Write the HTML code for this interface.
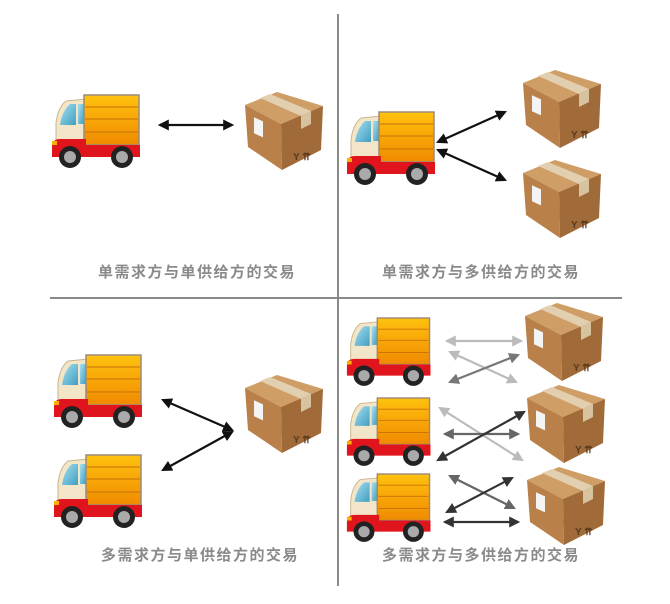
<!DOCTYPE html>
<html><head><meta charset="utf-8"><style>
html,body{margin:0;padding:0;background:#fff;}
svg text{font-family:"Liberation Sans","Noto Sans CJK SC",sans-serif;font-weight:bold;font-size:15px;fill:#8a8a8a;letter-spacing:1.5px;}
</style></head><body>
<svg width="670" height="599" viewBox="0 0 670 599" xmlns="http://www.w3.org/2000/svg">
<defs>
<linearGradient id="og" x1="0" y1="0" x2="0" y2="1"><stop offset="0" stop-color="#ffc20e"/><stop offset="1" stop-color="#f08a00"/></linearGradient>
<linearGradient id="wg" x1="0" y1="0" x2="1" y2="1"><stop offset="0" stop-color="#a8e0f0"/><stop offset="1" stop-color="#3f9ec0"/></linearGradient>
<g id="truck">
<path d="M6,48 L6,28 Q8,12 16,6 L36,4 L36,48 Z" fill="#f3e5c8" stroke="#c9b58e" stroke-width="1"/>
<path d="M10,30 Q12,16 20,9 L26,9 L26,30 Z" fill="url(#wg)"/>
<rect x="28" y="9" width="6" height="20" fill="url(#wg)"/>
<rect x="34" y="0" width="55" height="50" fill="url(#og)" stroke="#9b8a7a" stroke-width="1.5"/>
<line x1="35" y1="12" x2="88" y2="12" stroke="#c8700a" stroke-width="1"/>
<line x1="35" y1="24" x2="88" y2="24" stroke="#c8700a" stroke-width="1"/>
<line x1="35" y1="37" x2="88" y2="37" stroke="#c8700a" stroke-width="1"/>
<path d="M2,52 Q2,44 10,44 L36,44 L36,50 L90,50 L90,62 L2,62 Z" fill="#e0141c"/>
<rect x="2" y="46" width="5" height="4" fill="#ffb000"/>
<circle cx="20" cy="62" r="11" fill="#222"/><circle cx="20" cy="62" r="6" fill="#aaa"/>
<circle cx="72" cy="62" r="11" fill="#222"/><circle cx="72" cy="62" r="6" fill="#aaa"/>
</g>
<g id="box">
<polygon points="0,13 32,0 78,14 36,32" fill="#cf9d66"/>
<polygon points="0,13 36,32 37,78 3,55" fill="#b98149"/>
<polygon points="36,32 78,14 76,58 37,78" fill="#a06a39"/>
<polygon points="15,6 25,2 66,19 56,24" fill="#e2cfb0"/>
<polygon points="56,24 66,19 66,32 56,37" fill="#d8c3a0"/>
<rect x="9" y="26" width="9" height="16" fill="#f4f4f4" transform="skewY(25) translate(0,-5)"/>
<text x="48" y="68" style="font-size:10px;fill:#5a3a1c;letter-spacing:0">Y ⇈</text>
</g>
<marker id="a1" viewBox="0 0 10 10" refX="8" refY="5" markerWidth="5" markerHeight="5" orient="auto-start-reverse"><path d="M0,0 L10,5 L0,10 Z" fill="context-stroke"/></marker>
</defs>
<line x1="338" y1="14" x2="338" y2="586" stroke="#8a8a8a" stroke-width="2"/>
<line x1="50" y1="298" x2="622" y2="298" stroke="#8a8a8a" stroke-width="2"/>

<use href="#truck" x="50" y="95"/>
<use href="#box" x="245" y="92"/>
<use href="#truck" x="345" y="112"/>
<use href="#box" x="523" y="70"/>
<use href="#box" x="523" y="160"/>
<use href="#truck" x="52" y="355"/>
<use href="#truck" x="52" y="455"/>
<use href="#box" x="245" y="375"/>
<use href="#truck" transform="translate(345,318) scale(0.95,0.93)"/>
<use href="#truck" transform="translate(345,398) scale(0.95,0.93)"/>
<use href="#truck" transform="translate(345,474) scale(0.95,0.93)"/>
<use href="#box" x="525" y="303"/>
<use href="#box" x="527" y="385"/>
<use href="#box" x="527" y="467"/>

<g stroke-width="2.2" fill="none" marker-start="url(#a1)" marker-end="url(#a1)">
<line x1="160" y1="125" x2="232" y2="125" stroke="#111"/>
<line x1="438" y1="142" x2="505" y2="112" stroke="#111"/>
<line x1="438" y1="150" x2="505" y2="180" stroke="#111"/>
<line x1="163" y1="400" x2="232" y2="430" stroke="#111"/>
<line x1="163" y1="470" x2="232" y2="432" stroke="#111"/>
<line x1="447" y1="341" x2="521" y2="341" stroke="#bbb"/>
<line x1="450" y1="352" x2="516" y2="382" stroke="#bbb"/>
<line x1="450" y1="382" x2="518" y2="355" stroke="#777"/>
<line x1="440" y1="408" x2="522" y2="460" stroke="#bbb"/>
<line x1="445" y1="434" x2="518" y2="434" stroke="#666"/>
<line x1="438" y1="460" x2="524" y2="412" stroke="#333"/>
<line x1="450" y1="476" x2="514" y2="508" stroke="#666"/>
<line x1="447" y1="512" x2="512" y2="478" stroke="#333"/>
<line x1="445" y1="522" x2="518" y2="522" stroke="#333"/>
</g>

<text x="197" y="277" text-anchor="middle">单需求方与单供给方的交易</text>
<text x="481" y="277" text-anchor="middle">单需求方与多供给方的交易</text>
<text x="200" y="560" text-anchor="middle">多需求方与单供给方的交易</text>
<text x="481" y="560" text-anchor="middle">多需求方与多供给方的交易</text>
</svg>
</body></html>
